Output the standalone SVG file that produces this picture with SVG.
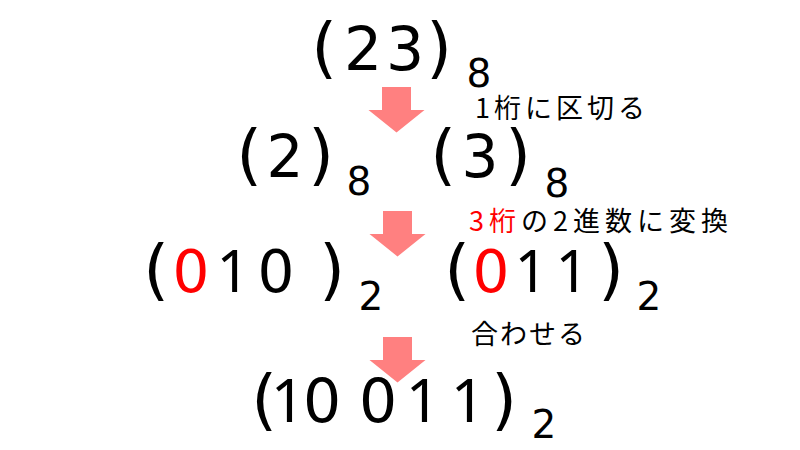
<svg xmlns="http://www.w3.org/2000/svg" width="800" height="450" viewBox="0 0 800 450">
  <style>
    text { font-family: "DejaVu Sans", "Noto Sans", sans-serif; fill: #000; text-anchor: middle; }
    .par { font-size: 66px; }
    .big { font-size: 60px; }
    .mid { font-size: 58px; }
    .one { font-family: "Noto Sans", "Noto Sans CJK JP", sans-serif; }
    .sub { font-size: 39px; }
    .lbl { font-family: "Noto Sans CJK JP", "Noto Sans", sans-serif; font-size: 27px; text-anchor: start; }
    .red { fill: #FF0000; }
    .arrow { fill: #FF8080; }
  </style>
  <defs>
    <polygon id="blockArrow" points="-14.5,0 14.5,0 14.5,23 28,23 0,45.5 -28,23 -14.5,23"/>
  </defs>
  <rect width="800" height="450" fill="#FFFFFF"/>

  <g id="node-23-oct">
    <text y="70"><tspan class="par" x="324">(</tspan><tspan class="big" x="363">2</tspan><tspan class="big" x="405">3</tspan><tspan class="par" x="439">)</tspan><tspan class="sub" x="479" y="87">8</tspan></text>
  </g>

  <g id="node-2-oct">
    <text y="177"><tspan class="par" x="249">(</tspan><tspan class="mid" x="285">2</tspan><tspan class="par" x="321">)</tspan><tspan class="sub" x="359" y="195">8</tspan></text>
  </g>

  <g id="node-3-oct">
    <text y="177"><tspan class="par" x="443">(</tspan><tspan class="mid" x="480">3</tspan><tspan class="par" x="518">)</tspan><tspan class="sub" x="557" y="197">8</tspan></text>
  </g>

  <g id="node-010-bin">
    <text y="292"><tspan class="par" x="156">(</tspan><tspan class="mid red" x="191">0</tspan><tspan class="mid one" x="233">1</tspan><tspan class="mid" x="276">0</tspan><tspan class="par" x="332">)</tspan><tspan class="sub" x="371" y="310">2</tspan></text>
  </g>

  <g id="node-011-bin">
    <text y="292"><tspan class="par" x="457">(</tspan><tspan class="mid red" x="491">0</tspan><tspan class="mid one" x="531">1</tspan><tspan class="mid one" x="572">1</tspan><tspan class="par" x="611">)</tspan><tspan class="sub" x="649" y="310">2</tspan></text>
  </g>

  <g id="node-10011-bin">
    <text y="422"><tspan class="par" x="264">(</tspan><tspan class="big one" x="288">1</tspan><tspan class="big" x="322">0</tspan><tspan class="big" x="378">0</tspan><tspan class="big one" x="423">1</tspan><tspan class="big one" x="468">1</tspan><tspan class="par" x="504">)</tspan><tspan class="sub" x="544" y="438">2</tspan></text>
  </g>

  <g id="labels">
    <text id="label-split" class="lbl" x="475" y="118" letter-spacing="4">1桁に区切る</text>
    <text id="label-convert" class="lbl" x="469" y="231" letter-spacing="5"><tspan class="red">3桁</tspan>の2進数に変換</text>
    <text id="label-join" class="lbl" x="471" y="344" letter-spacing="2">合わせる</text>
  </g>

  <g id="connectors">
    <use href="#blockArrow" class="arrow" x="396.5" y="87"/>
    <use href="#blockArrow" class="arrow" x="397.5" y="211"/>
    <use href="#blockArrow" class="arrow" x="397.5" y="337"/>
  </g>
</svg>
